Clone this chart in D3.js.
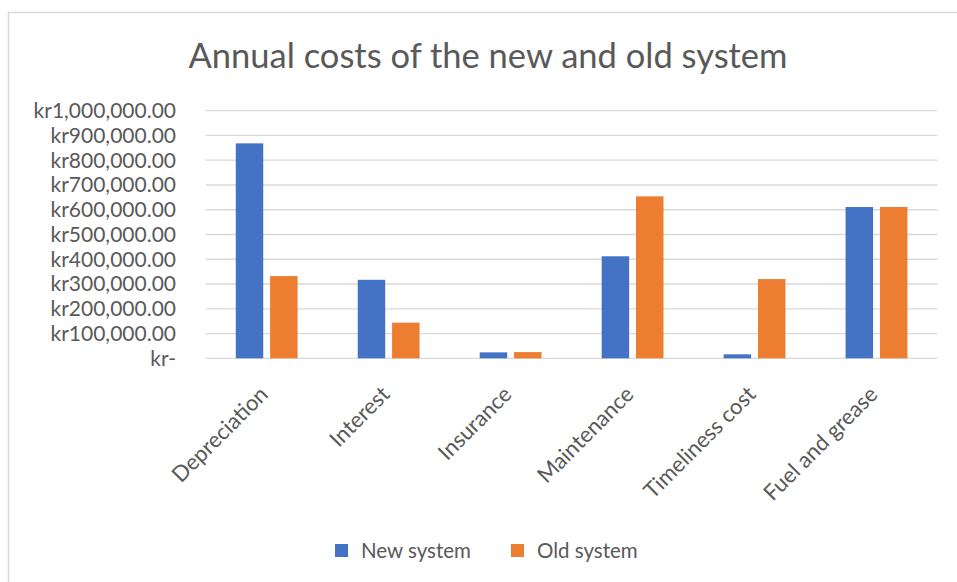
<!DOCTYPE html>
<html>
<head>
<meta charset="utf-8">
<script src="https://cdn.jsdelivr.net/npm/d3@7"></script>
<style>
  body { margin: 0; background: #fff; }
  text { font-family: Lato, "Open Sans", sans-serif; fill: #595959; }
</style>
</head>
<body>
<div id="chart"></div>
<script>
const categories = ["Depreciation", "Interest", "Insurance", "Maintenance", "Timeliness cost", "Fuel and grease"];
const seriesNames = ["New system", "Old system"];
const newSystem = [868000, 317000, 24000, 412000, 16000, 611000];
const oldSystem = [332000, 144000, 25000, 654000, 320000, 611000];
const yTicks = [0, 100000, 200000, 300000, 400000, 500000, 600000, 700000, 800000, 900000, 1000000];

const width = 957;
const height = 582;
const margin = { top: 110.7, right: 19.5, bottom: 223.7, left: 205.7 };
const colors = { "New system": "#4472C4", "Old system": "#ED7D31" };

const svg = d3.select("#chart")
    .append("svg")
    .attr("width", width)
    .attr("height", height);

// chart frame (right and bottom edges fall outside the picture)
svg.append("rect")
    .attr("x", 8.5)
    .attr("y", 12.5)
    .attr("width", 1000)
    .attr("height", 1000)
    .attr("fill", "none")
    .attr("stroke", "#d9d9d9")
    .attr("stroke-width", 1.5);

const data = categories.map((c, i) => ({
    category: c,
    values: [
        { key: "New system", value: newSystem[i] },
        { key: "Old system", value: oldSystem[i] }
    ]
}));

const x0 = d3.scaleBand()
    .domain(categories)
    .range([margin.left, width - margin.right])
    .padding(0);

const x1 = d3.scaleBand()
    .domain(seriesNames)
    .range([0, x0.bandwidth()])
    .paddingInner(0.2)
    .paddingOuter(0.875);

const y = d3.scaleLinear()
    .domain([0, 1000000])
    .range([height - margin.bottom, margin.top]);

// gridlines
svg.append("g")
    .selectAll("line")
    .data(yTicks)
    .join("line")
    .attr("x1", margin.left)
    .attr("x2", width - margin.right)
    .attr("y1", d => y(d))
    .attr("y2", d => y(d))
    .attr("stroke", "#d9d9d9")
    .attr("stroke-width", 1.3);

// bars
svg.append("g")
    .selectAll("g")
    .data(data)
    .join("g")
    .attr("transform", d => `translate(${x0(d.category)},0)`)
    .selectAll("rect")
    .data(d => d.values)
    .join("rect")
    .attr("x", d => x1(d.key))
    .attr("y", d => y(d.value))
    .attr("width", x1.bandwidth())
    .attr("height", d => y(0) - y(d.value))
    .attr("fill", d => colors[d.key]);

// y axis labels
const fmt = d3.format(",.2f");
svg.append("g")
    .selectAll("text")
    .data(yTicks)
    .join("text")
    .attr("x", 176)
    .attr("y", d => y(d))
    .attr("dy", "0.35em")
    .attr("text-anchor", "end")
    .style("font-size", "21px")
    .text(d => d === 0 ? "kr-" : "kr" + fmt(d));

// x axis labels
svg.append("g")
    .selectAll("text")
    .data(categories)
    .join("text")
    .attr("transform", d => `translate(${x0(d) + x0.bandwidth() / 2 - 3},${y(0) + 32}) rotate(-45)`)
    .attr("text-anchor", "end")
    .attr("dy", "0.35em")
    .style("font-size", "22px")
    .text(d => d);

// title
svg.append("text")
    .attr("x", 488)
    .attr("y", 68)
    .attr("text-anchor", "middle")
    .style("font-size", "34.5px")
    .text("Annual costs of the new and old system");

// legend
const legend = svg.append("g")
    .attr("transform", "translate(335,544)");

const legendX = [0, 176];
legend.selectAll("rect")
    .data(seriesNames)
    .join("rect")
    .attr("x", (_, i) => legendX[i])
    .attr("y", 0)
    .attr("width", 13)
    .attr("height", 13)
    .attr("fill", d => colors[d]);

legend.selectAll("text")
    .data(seriesNames)
    .join("text")
    .attr("x", (_, i) => legendX[i] + 26)
    .attr("y", 7)
    .attr("dy", "0.35em")
    .style("font-size", "20.5px")
    .text(d => d);
</script>
</body>
</html>
